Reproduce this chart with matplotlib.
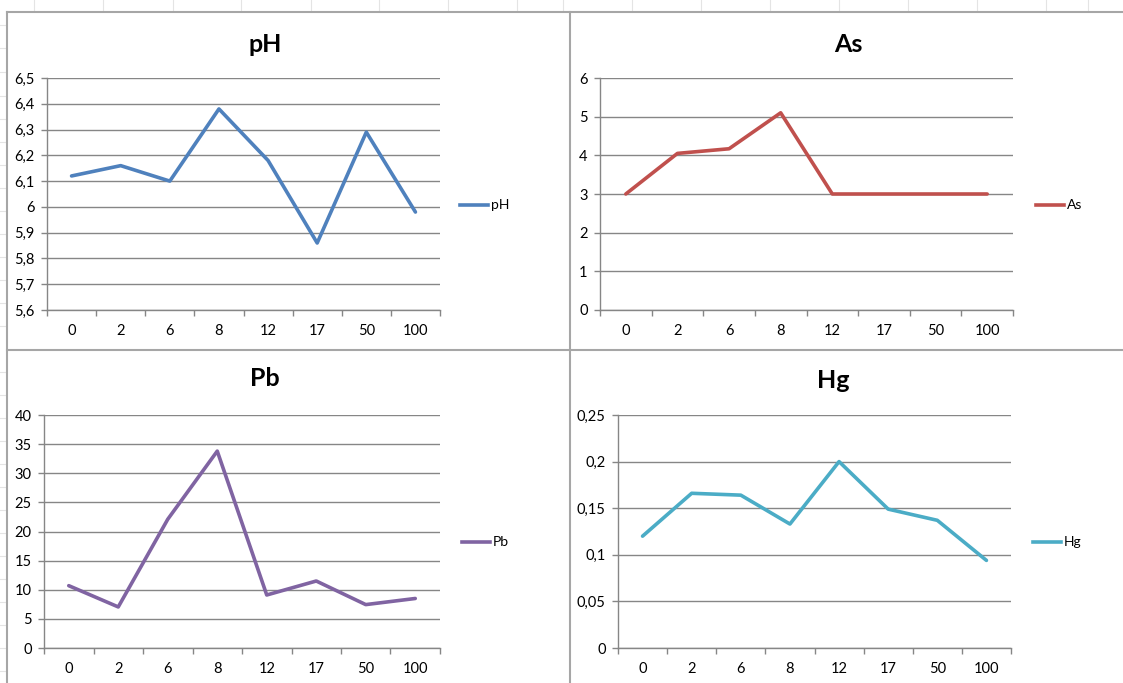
import matplotlib
matplotlib.use("Agg")
import matplotlib.pyplot as plt
from matplotlib.lines import Line2D

plt.rcParams["font.family"] = ["Lato", "DejaVu Sans"]

# sampling depths shown as categories
depths = ["0", "2", "6", "8", "12", "17", "50", "100"]

ph_values = [6.12, 6.16, 6.10, 6.38, 6.18, 5.86, 6.29, 5.98]
as_values = [3.0, 4.05, 4.17, 5.1, 3.0, 3.0, 3.0, 3.0]
pb_values = [10.7, 7.05, 22.1, 33.8, 9.1, 11.5, 7.45, 8.5]
hg_values = [0.120, 0.166, 0.164, 0.133, 0.200, 0.149, 0.137, 0.094]

ph_ticks = [5.6, 5.7, 5.8, 5.9, 6.0, 6.1, 6.2, 6.3, 6.4, 6.5]
ph_tick_labels = ["5,6", "5,7", "5,8", "5,9", "6", "6,1", "6,2", "6,3", "6,4", "6,5"]
as_ticks = [0, 1, 2, 3, 4, 5, 6]
as_tick_labels = ["0", "1", "2", "3", "4", "5", "6"]
pb_ticks = [0, 5, 10, 15, 20, 25, 30, 35, 40]
pb_tick_labels = ["0", "5", "10", "15", "20", "25", "30", "35", "40"]
hg_ticks = [0, 0.05, 0.10, 0.15, 0.20, 0.25]
hg_tick_labels = ["0", "0,05", "0,1", "0,15", "0,2", "0,25"]

W, H = 1123, 683
fig = plt.figure(figsize=(W / 100, H / 100), dpi=100)
fig.patch.set_facecolor("white")

AXIS_GRAY = "#868686"
BORDER_GRAY = "#a6a6a6"
LABEL_SIZE = 10.5


def px_line(x0, y0, x1, y1, color, lw):
    fig.add_artist(Line2D([x0 / W, x1 / W], [1 - y0 / H, 1 - y1 / H],
                          color=color, lw=lw, transform=fig.transFigure))


# faint spreadsheet cell lines behind the charts
for x in [34, 103, 173, 241, 311, 379, 448, 517, 563, 632, 701, 770, 839, 908, 977, 1046, 1088]:
    px_line(x, 0, x, 11, "#e4e4e4", 0.8)
for y in [25, 48, 72, 96, 119, 142, 165, 188, 211, 234, 257, 280, 303, 326,
          372, 395, 418, 441, 464, 487, 510, 533, 556, 579, 602, 625, 648, 671]:
    px_line(0, y, 6, y, "#e4e4e4", 0.8)

# chart frames
px_line(7, 12, W, 12, BORDER_GRAY, 1.5)
px_line(7, 12, 7, H, BORDER_GRAY, 1.5)
px_line(570, 12, 570, H, BORDER_GRAY, 1.5)
px_line(7, 350, W, 350, BORDER_GRAY, 1.5)

panels = [
    # title, values, colour, ticks, labels, axes box (left, right, top, bottom), title pos, legend pos
    ("pH", ph_values, "#4f81bd", ph_ticks, ph_tick_labels, (47, 440, 78, 310), (265, 44), (460, 205)),
    ("As", as_values, "#c0504d", as_ticks, as_tick_labels, (600, 1013, 78, 310), (848, 44), (1036, 205)),
    ("Pb", pb_values, "#8064a2", pb_ticks, pb_tick_labels, (44, 440, 415, 648), (265, 378), (462, 542)),
    ("Hg", hg_values, "#4bacc6", hg_ticks, hg_tick_labels, (618, 1011, 415, 648), (833, 380), (1033, 542)),
]

for name, values, color, ticks, labels, box, tpos, lpos in panels:
    left, right, top, bottom = box
    ax = fig.add_axes([left / W, 1 - bottom / H, (right - left) / W, (bottom - top) / H])
    x = list(range(len(depths)))
    ax.plot(x, values, color=color, lw=2.6, solid_joinstyle="round",
            solid_capstyle="round", label=name, zorder=3)

    ax.set_xlim(-0.5, len(depths) - 0.5)
    ax.set_ylim(ticks[0], ticks[-1])
    ax.set_yticks(ticks)
    ax.set_yticklabels(labels, fontsize=LABEL_SIZE)
    ax.set_xticks(x)
    ax.set_xticklabels(depths, fontsize=LABEL_SIZE)
    ax.set_xticks([k - 0.5 for k in range(len(depths) + 1)], minor=True)
    ax.tick_params(axis="x", which="major", length=0, pad=10)
    ax.tick_params(axis="x", which="minor", length=4, width=1, color=AXIS_GRAY, direction="out")
    ax.tick_params(axis="y", length=4, width=1, color=AXIS_GRAY, direction="out", pad=5)

    ax.yaxis.grid(True, color=AXIS_GRAY, lw=1)
    ax.set_axisbelow(True)
    for side in ["top", "right"]:
        ax.spines[side].set_visible(False)
    for side in ["left", "bottom"]:
        ax.spines[side].set_color(AXIS_GRAY)
        ax.spines[side].set_linewidth(1)
        ax.spines[side].set_zorder(2)

    fig.text(tpos[0] / W, 1 - tpos[1] / H, name, ha="center", va="center",
             fontsize=18, fontweight="bold")

    # legend: short line sample plus the series name
    lx, ly = lpos
    fig.add_artist(Line2D([lx / W, (lx + 28) / W], [1 - ly / H, 1 - ly / H],
                          color=color, lw=2.6, transform=fig.transFigure))
    fig.text((lx + 31) / W, 1 - ly / H, name, ha="left", va="center", fontsize=LABEL_SIZE - 0.5)

fig.savefig("out.png", dpi=100)
